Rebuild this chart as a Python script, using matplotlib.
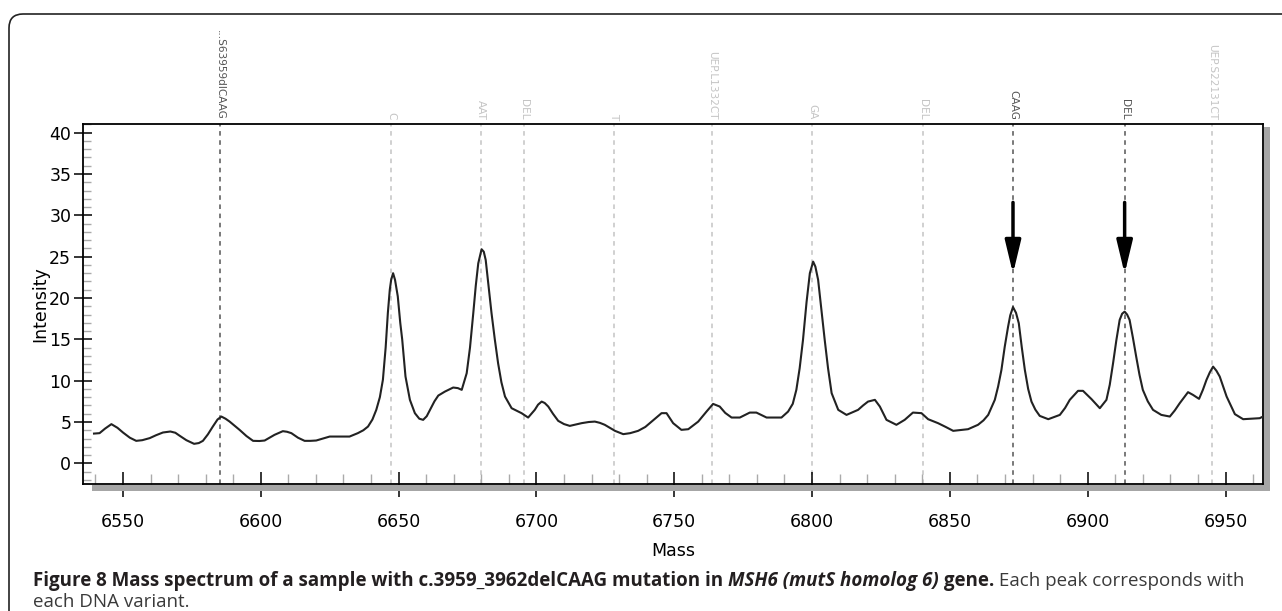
import matplotlib
matplotlib.use("Agg")
import matplotlib.pyplot as plt
from matplotlib.patches import Rectangle, FancyBboxPatch
from matplotlib.ticker import MultipleLocator

# Spectre (masse, intensité)
masse = [6539.5, 6541.5, 6543.5, 6545.8, 6548, 6550, 6552.5, 6554.8, 6557, 6559.7,
         6562, 6564.5, 6567.2, 6569, 6570.6, 6573, 6575.8, 6577.5, 6579.0, 6580.8,
         6582.6, 6584.3, 6585.7, 6587.2, 6588.7, 6590.5, 6592.3, 6594.8, 6597.2, 6599.5,
         6601.4, 6603.2, 6605.0, 6608.0, 6609.5, 6611.1, 6613.5, 6615.9, 6618, 6620.1,
         6622.5, 6625.0, 6628, 6632.2, 6635.2, 6637.2, 6638.9, 6640.5, 6641.9, 6643.2,
         6644.3, 6645.3, 6646.1, 6646.8, 6647.3, 6648.0, 6648.7, 6649.7, 6650.6, 6651.3,
         6652.5, 6654.1, 6655.9, 6657.5, 6658.9, 6660.2, 6661.4, 6663, 6664.4, 6666.8,
         6669.8, 6671.5, 6672.9, 6674.7, 6675.9, 6677.1, 6678.0, 6678.9, 6680.1, 6680.9,
         6681.6, 6682.6, 6683.7, 6684.9, 6686.1, 6687.3, 6688.6, 6691.0, 6694.6, 6697.0,
         6699.4, 6700.6, 6701.9, 6703.0, 6704.3, 6706, 6707.9, 6710, 6712.1, 6716.4,
         6719, 6721.2, 6723, 6724.8, 6728.5, 6731.5, 6734, 6736.9, 6739.5, 6741.8,
         6745.4, 6747.2, 6749.6, 6752.6, 6755.1, 6758.7, 6761.8, 6764.1, 6766.5, 6768.5,
         6770.8, 6773.8, 6777.4, 6779.8, 6783.5, 6788.9, 6791.3, 6793, 6794.3, 6795.5,
         6796.7, 6798, 6799.2, 6800.4, 6801.2, 6802.2, 6803.4, 6804.6, 6805.8, 6807.1,
         6809.5, 6812.5, 6816.7, 6818.5, 6820.3, 6822.8, 6824.6, 6827.0, 6830.6, 6833.6,
         6836.6, 6839.7, 6842.1, 6845.7, 6848.5, 6851.2, 6856.6, 6860.2, 6862.2, 6863.9,
         6866.3, 6867.5, 6868.7, 6869.9, 6871.1, 6871.9, 6872.9, 6874.0, 6875.0, 6876.1,
         6877.2, 6878.4, 6879.6, 6881, 6882.6, 6885.7, 6889.9, 6891.8, 6893.5, 6896.5,
         6898.3, 6901.4, 6904.4, 6906.8, 6908, 6909.2, 6910.4, 6911.6, 6912.5, 6913.4,
         6914.3, 6915.2, 6916.4, 6917.6, 6918.8, 6920.0, 6921.8, 6923.7, 6926.7, 6929.8,
         6931.6, 6933.4, 6936.4, 6938.2, 6940.4, 6941.8, 6943.1, 6944.3, 6945.5, 6946.7,
         6947.9, 6950.4, 6953.4, 6956.4, 6959.5, 6962.4, 6963.6]
intensite = [3.6, 3.65, 4.2, 4.74, 4.3, 3.73, 3.1, 2.72, 2.8, 3.05,
             3.4, 3.73, 3.85, 3.7, 3.33, 2.8, 2.36, 2.45, 2.72, 3.5,
             4.45, 5.3, 5.66, 5.4, 5.05, 4.55, 4.05, 3.3, 2.72, 2.7,
             2.76, 3.1, 3.45, 3.89, 3.82, 3.65, 3.1, 2.72, 2.72, 2.76,
             3.0, 3.24, 3.24, 3.24, 3.65, 4.0, 4.45, 5.3, 6.47, 8.0,
             10.1, 14.0, 18.2, 21.0, 22.2, 23.0, 22.2, 20.2, 17.0, 15.0,
             10.5, 7.68, 6.07, 5.4, 5.26, 5.7, 6.47, 7.5, 8.2, 8.68,
             9.17, 9.1, 8.89, 10.9, 14.0, 18.2, 21.5, 24.2, 25.9, 25.6,
             24.6, 21.5, 18.2, 15.0, 12.1, 9.8, 8.08, 6.67, 6.07, 5.54,
             6.47, 7.1, 7.47, 7.3, 6.87, 6.0, 5.14, 4.75, 4.53, 4.86,
             5.0, 5.05, 4.9, 4.66, 3.93, 3.53, 3.65, 3.93, 4.4, 5.05,
             6.07, 6.07, 4.86, 4.05, 4.13, 5.05, 6.3, 7.19, 6.87, 6.1,
             5.54, 5.54, 6.14, 6.14, 5.54, 5.54, 6.26, 7.2, 8.89, 11.5,
             14.9, 19.5, 23.0, 24.4, 23.8, 22.2, 18.5, 14.9, 11.5, 8.49,
             6.47, 5.86, 6.47, 7.0, 7.47, 7.68, 6.87, 5.26, 4.66, 5.26,
             6.14, 6.07, 5.34, 4.86, 4.4, 3.93, 4.13, 4.66, 5.2, 5.86,
             7.68, 9.29, 11.3, 14.1, 16.5, 17.9, 18.9, 18.2, 16.95, 14.0,
             11.3, 9.0, 7.47, 6.5, 5.74, 5.34, 5.86, 6.7, 7.68, 8.77,
             8.77, 7.76, 6.67, 7.68, 9.5, 12.1, 14.9, 17.35, 18.1, 18.35,
             18.0, 17.35, 15.2, 12.9, 10.7, 8.89, 7.5, 6.47, 5.86, 5.66,
             6.4, 7.28, 8.61, 8.28, 7.8, 8.9, 10.1, 11.0, 11.7, 11.2,
             10.5, 8.08, 5.95, 5.34, 5.4, 5.46, 5.66]

# Variants attendus (position, nom, observé ou non)
variants_pos = [6585.2, 6647.3, 6679.8, 6695.6, 6728.0, 6763.8, 6800.0,
                6840.4, 6872.9, 6913.4, 6945.2]
variants_nom = ["...S63959dlCAAG", "C", "AAT", "DEL", "T", "UEP.L1332CT", "GA",
                "DEL", "CAAG", "DEL", "UEP.S22131CT"]
variants_actif = [True, False, False, False, False, False, False,
                  False, True, True, False]

# Flèches sur les deux pics de la mutation
fleches_pos = [6872.9, 6913.4]

W, H = 1282, 611
fig = plt.figure(figsize=(W / 100, H / 100), dpi=100)
ax = fig.add_axes([83 / W, 1 - 484 / H, (1263 - 83) / W, (484 - 124) / H])

for x, nom, actif in zip(variants_pos, variants_nom, variants_actif):
    couleur = "#555555" if actif else "#c4c4c4"
    ax.axvline(x, color=couleur, lw=1.1, linestyle=(0, (3, 3)), zorder=1)
    ax.text(x, 1.012, nom, transform=ax.get_xaxis_transform(), rotation=270,
            ha="center", va="bottom", fontsize=7.6, color=couleur)

ax.plot(masse, intensite, color="#222222", lw=1.5, zorder=3)

for x in fleches_pos:
    ax.annotate("", xy=(x, 22.6), xytext=(x, 31.9),
                arrowprops=dict(arrowstyle="-|>,head_length=1.0,head_width=0.24",
                                color="black", lw=2.5, mutation_scale=20))

ax.set_xlim(6535.5, 6963.6)
ax.set_ylim(-2.5, 41.05)
ax.xaxis.set_major_locator(MultipleLocator(50))
ax.xaxis.set_minor_locator(MultipleLocator(10))
ax.yaxis.set_major_locator(MultipleLocator(5))
ax.yaxis.set_minor_locator(MultipleLocator(1))
ax.tick_params(axis="x", which="major", direction="inout", length=18, width=1.1,
               labelsize=12.5, pad=12)
ax.tick_params(axis="y", which="major", direction="inout", length=13, width=1.1,
               labelsize=12.5, pad=2)
ax.tick_params(axis="x", which="minor", direction="in", length=7, width=1, color="#aaaaaa")
ax.tick_params(axis="y", which="minor", direction="in", length=6, width=1, color="#aaaaaa")
for s in ax.spines.values():
    s.set_linewidth(1.3)

ax.set_xlabel("Mass", fontsize=12.5, labelpad=8)
ax.set_ylabel("Intensity", fontsize=12.5, labelpad=0)

# Ombre grise sous l'axe et à droite
fig.add_artist(Rectangle((92 / W, 1 - 491 / H), (1270 - 92) / W, 6 / H,
                         transform=fig.transFigure, color="#a6a6a6", lw=0))
fig.add_artist(Rectangle((1264 / W, 1 - 491 / H), 6 / W, (491 - 127) / H,
                         transform=fig.transFigure, color="#a6a6a6", lw=0))

# Cadre arrondi autour de la figure
fig.add_artist(FancyBboxPatch((0.09, -0.5), 14, 6.11 - 0.14 + 0.5,
                              boxstyle="round,pad=0,rounding_size=0.14",
                              transform=fig.dpi_scale_trans, fill=False,
                              ec="#222222", lw=1.2))

# Légende de la figure, en plusieurs morceaux de styles différents
morceaux = [("Figure 8 Mass spectrum of a sample with c.3959_3962delCAAG mutation in ", "bold", "normal", "#231f20"),
            ("MSH6 (mutS homolog 6)", "bold", "italic", "#231f20"),
            (" gene.", "bold", "normal", "#231f20"),
            (" Each peak corresponds with", "normal", "normal", "#3a3a3a")]
fig.canvas.draw()
renderer = fig.canvas.get_renderer()
x = 33
for texte, poids, style, c in morceaux:
    t = fig.text(x / W, 1 - 581 / H, texte, fontsize=13.5, fontfamily="Open Sans",
                 fontweight=poids, fontstyle=style, color=c, va="center")
    x += t.get_window_extent(renderer).width
fig.text(33 / W, 1 - 602 / H, "each DNA variant.", fontsize=13.5, fontfamily="Open Sans",
         color="#3a3a3a", va="center")

fig.savefig("out.png", dpi=100)
